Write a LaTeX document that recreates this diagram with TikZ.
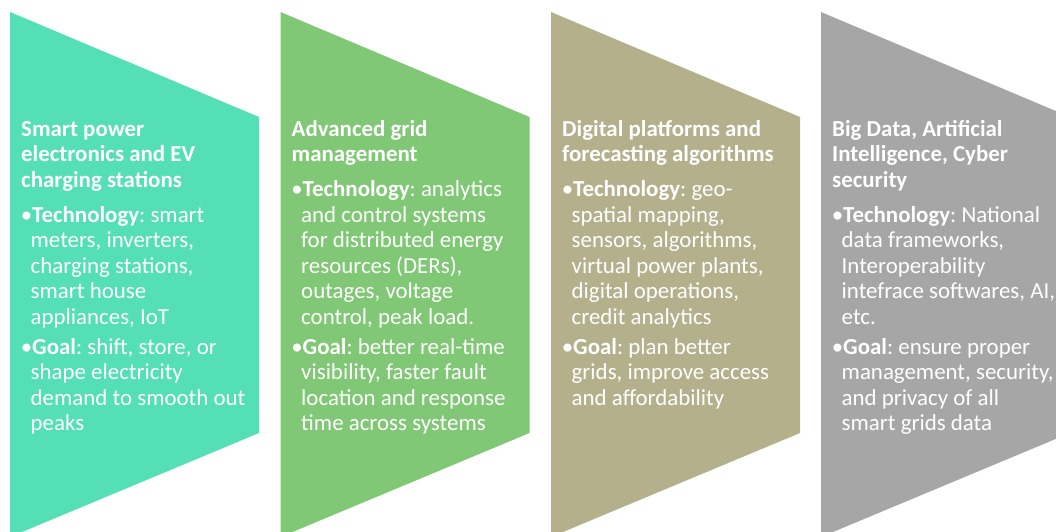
\documentclass[tikz,border=0pt]{standalone}
\usepackage{fontspec}
\setmainfont{Carlito}
\definecolor{tealband}{RGB}{84,223,182}
\definecolor{greenband}{RGB}{128,200,117}
\definecolor{khakiband}{RGB}{181,176,140}
\definecolor{grayband}{RGB}{166,166,166}
\newcommand\bandfont{\fontsize{22.9}{25.5}\selectfont\frenchspacing}
\newcommand\titlegap{\par\vspace{9.5pt}}
\newcommand\itemgap{\par\vspace{4.5pt}}
\newcommand\bulletline{\noindent\hangindent=9.5pt\hangafter=1\makebox[11pt][r]{\textbullet}}
% a column of text: ragged right, with \\ as a line break inside the paragraph,
% so that each bullet keeps its hanging indent
\newenvironment{bandcol}{\begin{minipage}[t]{250pt}\bandfont\raggedright\let\\\newline\parindent=0pt\strut}{\end{minipage}}
\tikzset{
  band/.style={draw=none},
  bandtext/.style={anchor=north west, inner sep=0pt, text=white},
}
\begin{document}
\begin{tikzpicture}[x=1pt,y=-1pt]
  \useasboundingbox (0,0) rectangle (1056,531);
  \clip (0,0) rectangle (1056,531);
  % slanted bands: vertical left side, slanted top and bottom
  \foreach \xl/\col in {10/tealband, 280.5/greenband, 551/khakiband, 821/grayband}{
    \fill[band, fill=\col] (\xl,12) -- (\xl+249,117) -- (\xl+249,433) -- (\xl,537) -- cycle;
  }
  \node[bandtext] (smart) at (21,118.2) {\begin{bandcol}\textbf{Smart power\\electronics and EV\\charging stations}\titlegap
    \bulletline\textbf{Technology}: smart\\meters, inverters,\\charging stations,\\smart house\\appliances, IoT\itemgap
    \bulletline\textbf{Goal}: shift, store, or\\shape electricity\\demand to smooth out\\peaks\end{bandcol}};
  \node[bandtext] (grid) at (291.5,118.2) {\begin{bandcol}\textbf{Advanced grid\\management}\titlegap
    \bulletline\textbf{Technology}: analytics\\and control systems\\for distributed energy\\resources (DERs),\\outages, voltage\\control, peak load.\itemgap
    \bulletline\textbf{Goal}: better real-time\\visibility, faster fault\\location and response\\time across systems\end{bandcol}};
  \node[bandtext] (digital) at (562,118.2) {\begin{bandcol}\textbf{Digital platforms and\\forecasting algorithms}\titlegap
    \bulletline\textbf{Technology}: geo-\\spatial mapping,\\sensors, algorithms,\\virtual power plants,\\digital operations,\\credit analytics\itemgap
    \bulletline\textbf{Goal}: plan better\\grids, improve access\\and affordability\end{bandcol}};
  \node[bandtext] (bigdata) at (832,118.2) {\begin{bandcol}\textbf{Big Data, Artificial\\Intelligence, Cyber\\security}\titlegap
    \bulletline\textbf{Technology}: National\\data frameworks,\\Interoperability\\intefrace softwares, AI,\\etc.\itemgap
    \bulletline\textbf{Goal}: ensure proper\\management, security,\\and privacy of all\\smart grids data\end{bandcol}};
\end{tikzpicture}
\end{document}
